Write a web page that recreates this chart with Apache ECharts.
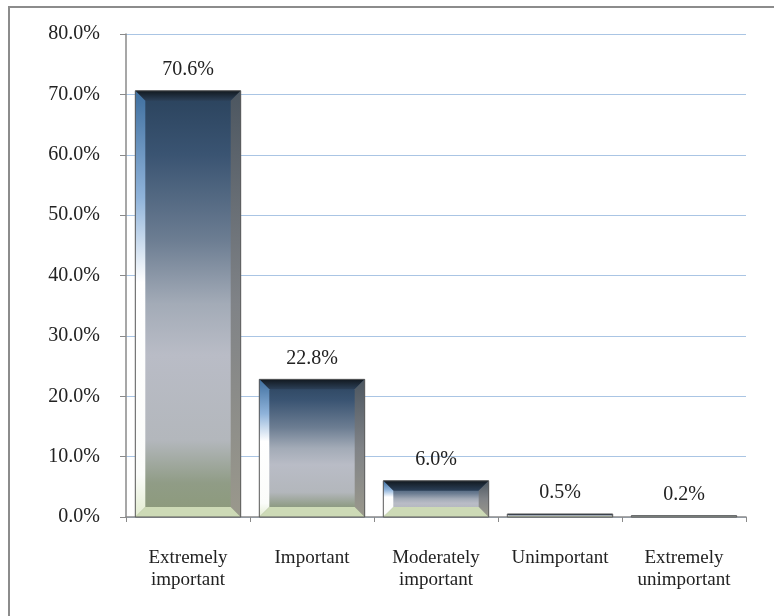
<!DOCTYPE html>
<html>
<head>
<meta charset="utf-8">
<script src="https://cdn.jsdelivr.net/npm/echarts@6/dist/echarts.min.js"></script>
<style>
  html, body { margin: 0; padding: 0; background: #fff; overflow: hidden; }
  #chart { position: absolute; left: 0; top: 0; width: 774px; height: 616px; }
  #frame {
    position: absolute; left: 8px; top: 6px; width: 800px; height: 640px;
    border-left: 2px solid #8c8c8c; border-top: 2px solid #8c8c8c;
    pointer-events: none;
  }
</style>
</head>
<body>
<div id="chart"></div>
<div id="frame"></div>
<script>
const categories = [
  'Extremely\nimportant',
  'Important',
  'Moderately\nimportant',
  'Unimportant',
  'Extremely\nunimportant'
]
const shares = [70.6, 22.8, 6.0, 0.5, 0.2]
const yTicks = [0, 10, 20, 30, 40, 50, 60, 70, 80]

const fontFamily = '"Liberation Serif", "Times New Roman", serif'
const textColor = '#222'

const lg = (x, y, x2, y2, stops) =>
  new echarts.graphic.LinearGradient(x, y, x2, y2, stops.map(([offset, color]) => ({ offset, color })))

// bevelled "glass" bar, roughly like the office preset
const bodyFill = lg(0, 0, 0, 1, [
  [0, '#2a425c'],
  [0.15, '#3a5472'],
  [0.35, '#6c7d92'],
  [0.5, '#a3abb7'],
  [0.62, '#b9bcc6'],
  [0.82, '#b3b7bc'],
  [0.92, '#909c86'],
  [1, '#8c9a7a']
])
const topFill = lg(0, 0, 0, 1, [
  [0, '#121920'],
  [1, '#2c4058']
])
const leftFill = lg(0, 0, 0, 1, [
  [0, '#3f6f9f'],
  [0.25, '#8fb3da'],
  [0.45, '#ffffff'],
  [0.9, '#fbfcfa'],
  [1, '#e2ecd0']
])
const rightFill = lg(0, 0, 0, 1, [
  [0, '#4c5660'],
  [0.5, '#808387'],
  [1, '#9a988c']
])

function renderBar(params, api) {
  const idx = api.value(0)
  const v = api.value(1)
  const top = api.coord([idx, v])
  const base = api.coord([idx, 0])
  const band = api.size([1, 0])[0]
  const w = band * 0.85
  const x0 = top[0] - w / 2
  const x1 = x0 + w
  const y0 = top[1]
  const y1 = base[1]
  const h = Math.max(y1 - y0, 1)
  const b = Math.min(10, h / 3, w / 4)
  const yb = y0 + h

  const children = [
    { type: 'rect', shape: { x: x0, y: y0, width: w, height: h }, style: { fill: bodyFill } },
    {
      type: 'polygon',
      shape: { points: [[x0, y0], [x1, y0], [x1 - b, y0 + b], [x0 + b, y0 + b]] },
      style: { fill: topFill }
    },
    {
      type: 'polygon',
      shape: { points: [[x0, y0], [x0 + b, y0 + b], [x0 + b, yb - b], [x0, yb]] },
      style: { fill: leftFill }
    },
    {
      type: 'polygon',
      shape: { points: [[x1, y0], [x1, yb], [x1 - b, yb - b], [x1 - b, y0 + b]] },
      style: { fill: rightFill }
    },
    {
      type: 'polygon',
      shape: { points: [[x0, yb], [x1, yb], [x1 - b, yb - b], [x0 + b, yb - b]] },
      style: { fill: '#cddab6' }
    },
    {
      type: 'rect',
      shape: { x: x0, y: y0, width: w, height: h },
      style: { fill: 'none', stroke: '#5a5a5a', lineWidth: 1 }
    },
    {
      type: 'text',
      x: top[0],
      y: y0 - 11,
      style: {
        text: v.toFixed(1) + '%',
        align: 'center',
        verticalAlign: 'bottom',
        fill: textColor,
        font: '20px ' + fontFamily
      }
    }
  ]
  return { type: 'group', children }
}

const myChart = echarts.init(document.getElementById('chart'))

myChart.setOption({
  animation: false,
  grid: { left: 126, right: 28, top: 34, bottom: 99 },
  xAxis: {
    type: 'category',
    data: categories,
    axisLine: { lineStyle: { color: '#8a8a8a', width: 1.5 } },
    axisTick: { show: true, length: 5, lineStyle: { color: '#8a8a8a' } },
    axisLabel: {
      interval: 0,
      margin: 30,
      color: textColor,
      fontFamily,
      fontSize: 19,
      lineHeight: 22
    }
  },
  yAxis: {
    type: 'value',
    min: yTicks[0],
    max: yTicks[yTicks.length - 1],
    interval: yTicks[1] - yTicks[0],
    axisLine: { show: true, lineStyle: { color: '#8a8a8a', width: 1.5 } },
    axisTick: { show: true, length: 6, lineStyle: { color: '#8a8a8a' } },
    splitLine: { lineStyle: { color: '#aac5e4', width: 1 } },
    axisLabel: {
      margin: 26,
      color: textColor,
      fontFamily,
      fontSize: 20,
      formatter: (val) => val.toFixed(1) + '%'
    }
  },
  series: [
    {
      type: 'custom',
      renderItem: renderBar,
      encode: { x: 0, y: 1 },
      data: shares.map((s, i) => [i, s]),
      clip: false
    }
  ]
})
</script>
</body>
</html>
